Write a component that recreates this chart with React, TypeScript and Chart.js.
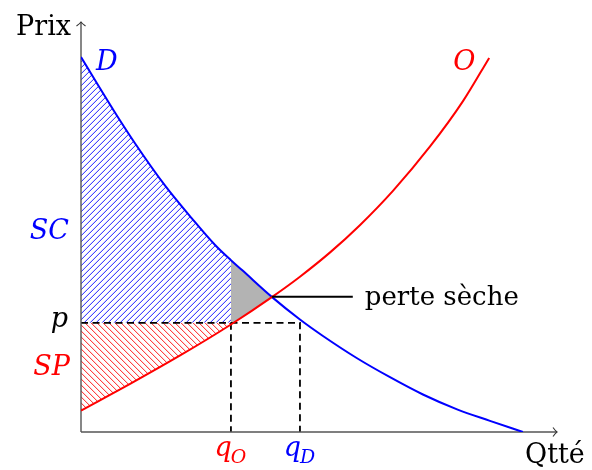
import { useEffect, useRef } from "react";
import { Chart, registerables } from "chart.js";
Chart.register(...registerables);

// Demand curve (quantity, price)
const demandQ = [0, 0.86, 1.36, 2.12, 2.8, 3.38, 3.78, 4.06, 4.81, 5.52, 6.1, 6.96, 7.79, 8.62, 9.48, 10.31, 11.14];
const demandP = [9.1, 7.75, 7.01, 5.98, 5.18, 4.54, 4.17, 3.93, 3.28, 2.73, 2.33, 1.79, 1.33, 0.91, 0.55, 0.27, 0];
// Supply curve (quantity, price)
const supplyQ = [0, 1.26, 2.52, 3.78, 4.82, 5.52, 6.28, 7.03, 7.87, 8.8, 9.63, 10.29];
const supplyP = [0.52, 1.18, 1.87, 2.61, 3.28, 3.77, 4.36, 5.02, 5.86, 6.93, 8.03, 9.08];

// Key values
const priceP = 2.65;
const quantityO = 3.78;
const quantityD = 5.52;
const equilibriumQ = 4.81;
const equilibriumP = 3.28;

// Axis ranges
const xMax = 12;
const yMax = 10;

// Texts
const yAxisTitle = "Prix";
const xAxisTitle = "Qtté";
const demandName = "D";
const supplyName = "O";
const priceTick = "p";
const qTickBase = "q";
const qTickSubs = ["O", "D"];
const surplusNames = ["SC", "SP"];
const lossName = "perte sèche";

const BLUE = "#0000ff";
const RED = "#ff0000";
const SERIF = '"DejaVu Serif", serif';

function hatch(ctx: CanvasRenderingContext2D, x0: number, y0: number, x1: number, y1: number, dir: 1 | -1, color: string, step: number) {
  const h = Math.ceil(y1 - y0);
  ctx.save();
  ctx.strokeStyle = color;
  ctx.lineWidth = 0.9;
  ctx.beginPath();
  const start = Math.floor(x0 - h);
  for (let x = start; x <= x1 + step; x += step) {
    if (dir === 1) {
      ctx.moveTo(x, y1);
      ctx.lineTo(x + h, y1 - h);
    } else {
      ctx.moveTo(x, y0);
      ctx.lineTo(x + h, y0 + h);
    }
  }
  ctx.stroke();
  ctx.restore();
}

const econPlugin = {
  id: "econ",
  beforeDatasetsDraw(chart: any) {
    const ctx: CanvasRenderingContext2D = chart.ctx;
    const xs = chart.scales.x;
    const ys = chart.scales.y;
    const X = (v: number) => xs.getPixelForValue(v);
    const Y = (v: number) => ys.getPixelForValue(v);
    const area = chart.chartArea;
    const sMeta = chart.getDatasetMeta(0);
    const dMeta = chart.getDatasetMeta(1);
    sMeta.dataset.updateControlPoints(area, "x");
    dMeta.dataset.updateControlPoints(area, "x");

    const underDemand = () => {
      ctx.beginPath();
      dMeta.dataset.path(ctx);
      ctx.lineTo(X(0), Y(0));
      ctx.closePath();
    };
    const aboveSupply = () => {
      ctx.beginPath();
      sMeta.dataset.path(ctx);
      ctx.lineTo(X(0), Y(yMax));
      ctx.closePath();
    };

    // Consumer surplus (blue hatch)
    ctx.save();
    ctx.beginPath();
    ctx.rect(X(0), area.top, X(quantityO) - X(0), Y(priceP) - area.top);
    ctx.clip();
    underDemand();
    ctx.clip();
    hatch(ctx, X(0), area.top, X(quantityO), Y(priceP), 1, BLUE, 6);
    ctx.restore();

    // Producer surplus (red hatch)
    ctx.save();
    ctx.beginPath();
    ctx.rect(X(0), Y(priceP), X(quantityO) - X(0), Y(0) - Y(priceP));
    ctx.clip();
    aboveSupply();
    ctx.clip();
    hatch(ctx, X(0), Y(priceP), X(quantityO), Y(0), -1, RED, 6);
    ctx.restore();

    // Deadweight loss (gray)
    ctx.save();
    ctx.beginPath();
    ctx.rect(X(quantityO), area.top, X(equilibriumQ) - X(quantityO) + 2, Y(0) - area.top);
    ctx.clip();
    underDemand();
    ctx.clip();
    aboveSupply();
    ctx.clip();
    ctx.fillStyle = "#b3b3b3";
    ctx.fillRect(X(quantityO), area.top, X(equilibriumQ) - X(quantityO) + 2, Y(0) - area.top);
    ctx.restore();

    // Dashed guides
    ctx.save();
    ctx.strokeStyle = "#000";
    ctx.lineWidth = 1.8;
    ctx.setLineDash([7, 4.5]);
    ctx.beginPath();
    ctx.moveTo(X(0), Y(priceP));
    ctx.lineTo(X(quantityD), Y(priceP));
    ctx.lineTo(X(quantityD), Y(0));
    ctx.moveTo(X(quantityO), Y(priceP));
    ctx.lineTo(X(quantityO), Y(0));
    ctx.stroke();
    ctx.restore();

    // Axes
    ctx.save();
    ctx.strokeStyle = "#555";
    ctx.lineWidth = 1.4;
    ctx.beginPath();
    ctx.moveTo(X(0), Y(0));
    ctx.lineTo(area.right, Y(0));
    ctx.moveTo(X(0), Y(0));
    ctx.lineTo(X(0), area.top + 2);
    ctx.stroke();
    // arrow heads
    ctx.lineWidth = 1.1;
    ctx.strokeStyle = "#333";
    ctx.beginPath();
    const tx = area.right, ty = Y(0);
    ctx.moveTo(tx - 4, ty - 4.5);
    ctx.quadraticCurveTo(tx - 1.5, ty - 1, tx, ty);
    ctx.quadraticCurveTo(tx - 1.5, ty + 1, tx - 4, ty + 4.5);
    const ux = X(0), uy = area.top + 2;
    ctx.moveTo(ux - 4.5, uy + 4);
    ctx.quadraticCurveTo(ux - 1, uy + 1.5, ux, uy);
    ctx.quadraticCurveTo(ux + 1, uy + 1.5, ux + 4.5, uy + 4);
    ctx.stroke();
    ctx.restore();
  },
  afterDraw(chart: any) {
    const ctx: CanvasRenderingContext2D = chart.ctx;
    const xs = chart.scales.x;
    const ys = chart.scales.y;
    const X = (v: number) => xs.getPixelForValue(v);
    const Y = (v: number) => ys.getPixelForValue(v);
    const area = chart.chartArea;

    // leader line for deadweight loss
    ctx.save();
    ctx.strokeStyle = "#000";
    ctx.lineWidth = 2;
    ctx.beginPath();
    ctx.moveTo(X(equilibriumQ), Y(equilibriumP));
    ctx.lineTo(X(equilibriumQ) + 81, Y(equilibriumP));
    ctx.stroke();
    ctx.restore();

    ctx.save();
    ctx.textBaseline = "alphabetic";
    // axis titles
    ctx.fillStyle = "#000";
    ctx.font = `27px ${SERIF}`;
    ctx.textAlign = "right";
    ctx.fillText(yAxisTitle, X(0) - 10, area.top + 15);
    ctx.textAlign = "left";
    ctx.fillText(xAxisTitle, area.right - 32, Y(0) + 31);
    ctx.font = `26px ${SERIF}`;
    ctx.fillText(lossName, X(equilibriumQ) + 93, Y(equilibriumP) + 8);

    // curve names
    ctx.font = `italic 27px ${SERIF}`;
    ctx.fillStyle = BLUE;
    ctx.fillText(demandName, X(0) + 15, 70);
    ctx.fillStyle = RED;
    ctx.fillText(supplyName, X(supplyQ[supplyQ.length - 1]) - 36, 70);

    // y tick labels
    ctx.textAlign = "right";
    ctx.fillStyle = "#000";
    ctx.fillText(priceTick, X(0) - 13, Y(priceP) + 4);
    ctx.fillStyle = BLUE;
    ctx.fillText(surplusNames[0], X(0) - 12, Y(priceP) - 84);
    ctx.fillStyle = RED;
    ctx.fillText(surplusNames[1], X(0) - 11, Y(priceP) + 52);

    // x tick labels with subscripts
    const qLabel = (q: number, sub: string, color: string) => {
      ctx.fillStyle = color;
      ctx.textAlign = "left";
      ctx.font = `italic 27px ${SERIF}`;
      const w1 = ctx.measureText(qTickBase).width;
      ctx.font = `italic 19px ${SERIF}`;
      const w2 = ctx.measureText(sub).width;
      const x0 = X(q) - (w1 + w2) / 2;
      ctx.font = `italic 27px ${SERIF}`;
      ctx.fillText(qTickBase, x0, Y(0) + 24);
      ctx.font = `italic 19px ${SERIF}`;
      ctx.fillText(sub, x0 + w1 - 1, Y(0) + 31);
    };
    qLabel(quantityO, qTickSubs[0], RED);
    qLabel(quantityD, qTickSubs[1], BLUE);
    ctx.restore();
  },
};

export default function App() {
  const ref = useRef<HTMLCanvasElement>(null);
  useEffect(() => {
    const canvas = ref.current!;
    const chart = new Chart(canvas, {
      type: "scatter",
      data: {
        datasets: [
          {
            label: supplyName,
            data: supplyQ.map((q, i) => ({ x: q, y: supplyP[i] })),
            showLine: true,
            borderColor: RED,
            borderWidth: 2,
            pointRadius: 0,
            cubicInterpolationMode: "monotone",
            fill: false,
            order: 1,
          },
          {
            label: demandName,
            data: demandQ.map((q, i) => ({ x: q, y: demandP[i] })),
            showLine: true,
            borderColor: BLUE,
            borderWidth: 2,
            pointRadius: 0,
            cubicInterpolationMode: "monotone",
            fill: false,
            order: 2,
          },
        ],
      },
      options: {
        responsive: false,
        animation: false,
        devicePixelRatio: 1,
        events: [],
        layout: { padding: { left: 81, right: 35, top: 20, bottom: 38 }, autoPadding: false },
        scales: {
          x: { type: "linear", min: 0, max: xMax, display: false },
          y: { type: "linear", min: 0, max: yMax, display: false },
        },
        plugins: { legend: { display: false }, tooltip: { enabled: false } },
      } as any,
      plugins: [econPlugin],
    });
    return () => chart.destroy();
  }, []);
  return (
    <div style={{ position: "fixed", left: 0, top: 0, width: 592, height: 470, background: "#fff" }}>
      <canvas ref={ref} width={592} height={470} style={{ display: "block" }} />
    </div>
  );
}
